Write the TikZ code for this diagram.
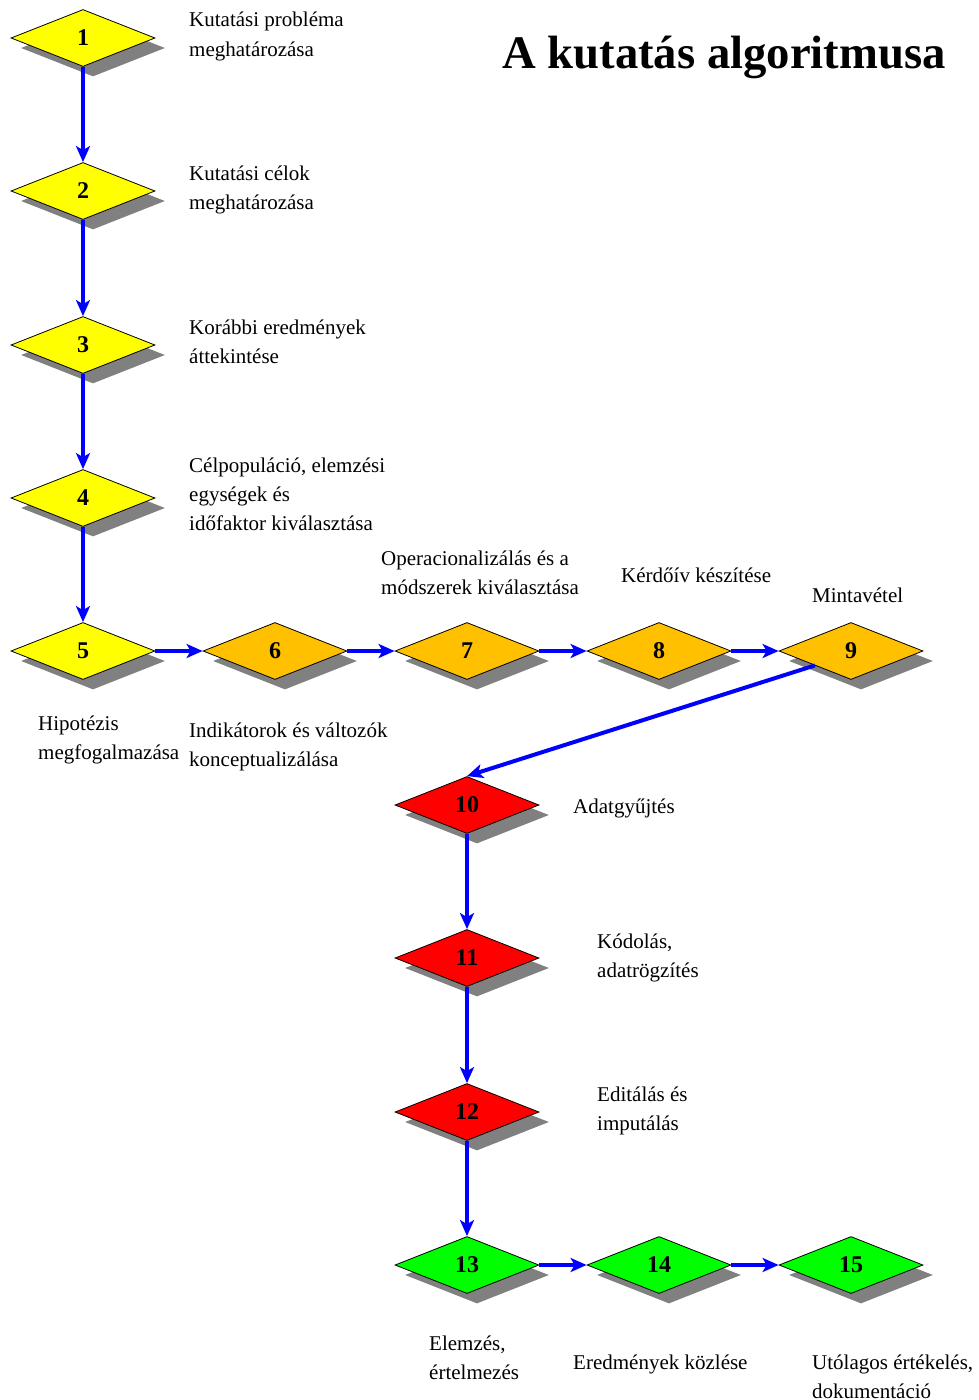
\documentclass[tikz,border=0pt]{standalone}
\usepackage{fontspec}
\setmainfont{Liberation Serif}
\usetikzlibrary{shapes.geometric,shadows,arrows.meta}
\definecolor{sarga}{RGB}{255,255,0}
\definecolor{narancs}{RGB}{255,192,0}
\definecolor{piros}{RGB}{255,0,0}
\definecolor{zold}{RGB}{0,255,0}
\definecolor{arnyek}{RGB}{128,128,128}
\begin{document}
\begin{tikzpicture}[x=1pt,y=-1pt]
\tikzstyle{lepes}=[diamond,draw=black,line width=0.8pt,inner sep=0pt,minimum width=144pt,minimum height=57pt,font=\fontsize{24}{24}\selectfont\bfseries,drop shadow={shadow xshift=10pt,shadow yshift=-10pt,fill=arnyek,opacity=1}]
\tikzstyle{cimke}=[anchor=base west,align=left,inner sep=0pt,font=\fontsize{21}{29}\selectfont]
\tikzstyle{nyil}=[draw=blue,line width=4pt,-{Stealth[length=16pt,width=14pt,inset=4pt]}]
\useasboundingbox (0,0) rectangle (979,1400);
\node[anchor=base west,inner sep=0pt,font=\fontsize{46.7}{47}\selectfont\bfseries] (cim) at (502,68) {A kutatás algoritmusa};
\node[lepes,fill=sarga] (s1) at (83,38) {1};
\node[lepes,fill=sarga] (s2) at (83,191) {2};
\node[lepes,fill=sarga] (s3) at (83,345) {3};
\node[lepes,fill=sarga] (s4) at (83,498) {4};
\node[lepes,fill=sarga] (s5) at (83,651) {5};
\node[lepes,fill=narancs] (s6) at (275,651) {6};
\node[lepes,fill=narancs] (s7) at (467,651) {7};
\node[lepes,fill=narancs] (s8) at (659,651) {8};
\node[lepes,fill=narancs] (s9) at (851,651) {9};
\node[lepes,fill=piros] (s10) at (467,805) {10};
\node[lepes,fill=piros] (s11) at (467,958) {11};
\node[lepes,fill=piros] (s12) at (467,1112) {12};
\node[lepes,fill=zold] (s13) at (467,1265) {13};
\node[lepes,fill=zold] (s14) at (659,1265) {14};
\node[lepes,fill=zold] (s15) at (851,1265) {15};
\node[cimke] (c1) at (189,56) {Kutatási probléma\\meghatározása};
\node[cimke] (c2) at (189,209) {Kutatási célok\\meghatározása};
\node[cimke] (c3) at (189,363) {Korábbi eredmények\\áttekintése};
\node[cimke] (c4) at (189,530) {Célpopuláció, elemzési\\egységek és\\időfaktor kiválasztása};
\node[cimke] (c5) at (38,759) {Hipotézis\\megfogalmazása};
\node[cimke] (c6) at (189,766) {Indikátorok és változók\\konceptualizálása};
\node[cimke] (c7) at (381,594) {Operacionalizálás és a\\módszerek kiválasztása};
\node[cimke] (c8) at (621,582) {Kérdőív készítése};
\node[cimke] (c9) at (812,602) {Mintavétel};
\node[cimke] (c10) at (573,813) {Adatgyűjtés};
\node[cimke] (c11) at (597,977) {Kódolás,\\adatrögzítés};
\node[cimke] (c12) at (597,1130) {Editálás és\\imputálás};
\node[cimke] (c13) at (429,1379) {Elemzés,\\értelmezés};
\node[cimke] (c14) at (573,1369) {Eredmények közlése};
\node[cimke] (c15) at (812,1398) {Utólagos értékelés,\\dokumentáció};
\draw[nyil] (s1) -- (s2);
\draw[nyil] (s2) -- (s3);
\draw[nyil] (s3) -- (s4);
\draw[nyil] (s4) -- (s5);
\draw[nyil] (s5) -- (s6);
\draw[nyil] (s6) -- (s7);
\draw[nyil] (s7) -- (s8);
\draw[nyil] (s8) -- (s9);
\draw[nyil] (s9.south west) -- (s10.north);
\draw[nyil] (s10) -- (s11);
\draw[nyil] (s11) -- (s12);
\draw[nyil] (s12) -- (s13);
\draw[nyil] (s13) -- (s14);
\draw[nyil] (s14) -- (s15);
\end{tikzpicture}
\end{document}
